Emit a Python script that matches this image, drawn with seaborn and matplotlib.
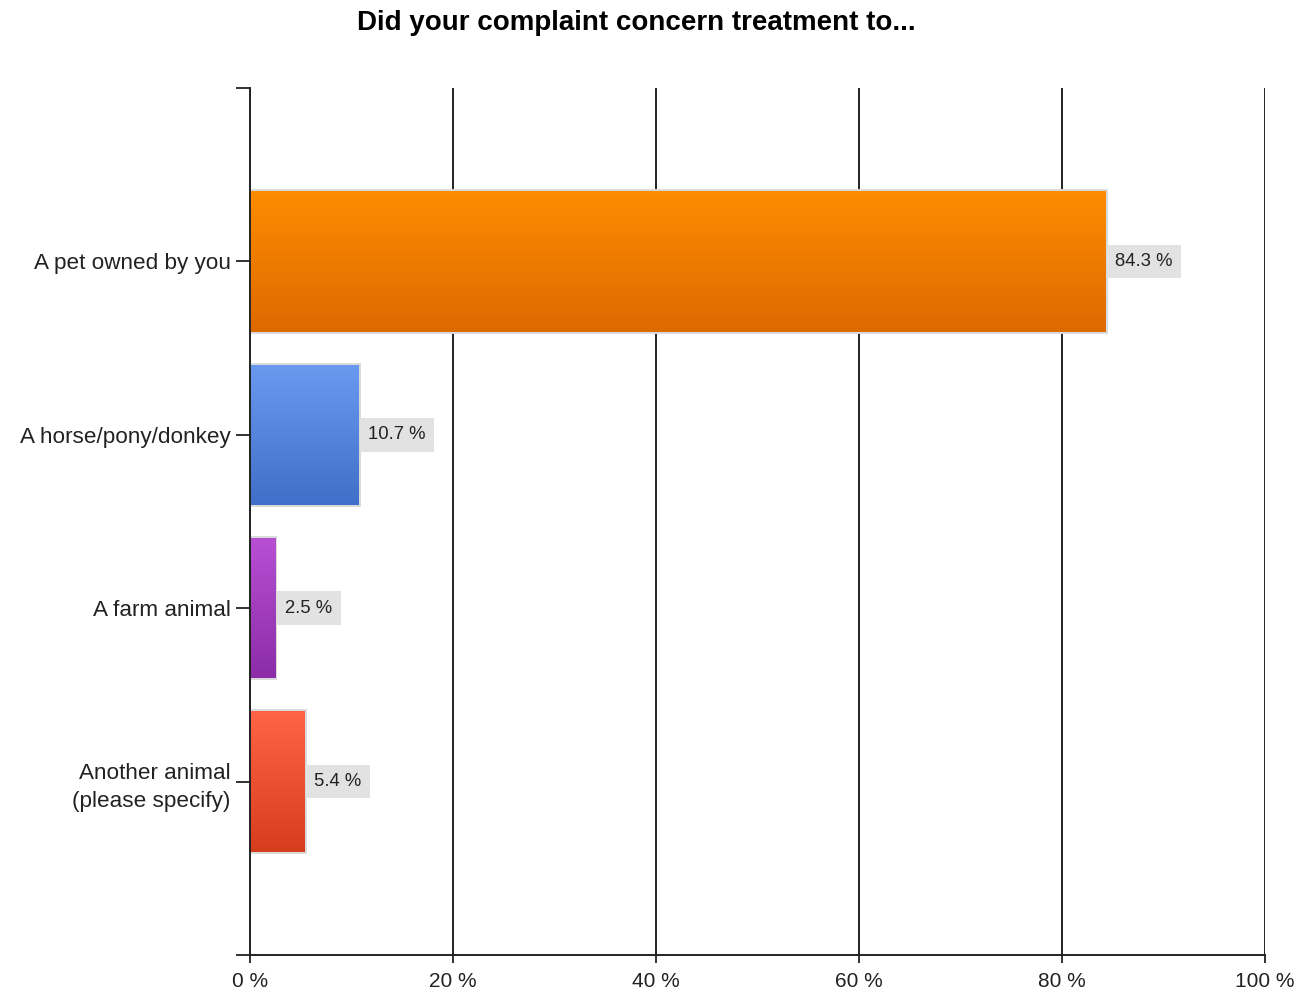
import numpy as np
import pandas as pd
import matplotlib.pyplot as plt
import matplotlib.colors as mcolors
import seaborn as sns

# data
categories = ["A pet owned by you", "A horse/pony/donkey", "A farm animal",
              "Another animal\n(please specify)"]
percent = [84.3, 10.7, 2.5, 5.4]
top_colors = ["#ff8c00", "#6a9af0", "#b850d4", "#ff6448"]
bottom_colors = ["#dc6a00", "#3f6fc8", "#8c2ca8", "#d63c1e"]
x_ticks = [0, 20, 40, 60, 80, 100]

df = pd.DataFrame({"category": categories, "percent": percent})

sns.set_style("white")
plt.rcParams["font.family"] = ["Liberation Sans", "DejaVu Sans"]

fig = plt.figure(figsize=(13.01, 9.92), dpi=100)
ax = fig.add_axes([0.1922, 0.0373, 0.9723 - 0.1922, 0.9113 - 0.0373])

sns.barplot(data=df, x="percent", y="category", orient="h", ax=ax,
            width=0.81, color="white", edgecolor="#d9d9d9", linewidth=2.8,
            zorder=3)

ax.set_xlim(0, 100)
ax.set_ylim(4, -1)

# gradient fill inside each bar
for patch, c_top, c_bot in zip(ax.patches, top_colors, bottom_colors):
    x0, y0 = patch.get_x(), patch.get_y()
    w, h = patch.get_width(), patch.get_height()
    cmap = mcolors.LinearSegmentedColormap.from_list("g", [c_top, c_bot])
    grad = np.linspace(0, 1, 256).reshape(-1, 1)
    im = ax.imshow(grad, cmap=cmap, aspect="auto", extent=[x0, x0 + w, y0 + h, y0],
                   zorder=3.5, interpolation="bilinear")
    im.set_clip_path(patch)

ax.set_xlim(0, 100)
ax.set_ylim(4, -1)

# value labels
for i, v in enumerate(percent):
    ax.text(v + 0.95, i, f"{v} %", va="center", ha="left", fontsize=13.3,
            color="#222222", zorder=5,
            bbox=dict(boxstyle="square,pad=0.45", facecolor="#e2e2e2",
                      edgecolor="none"))

ax.set_xticks(x_ticks)
ax.set_xticklabels([f"{t} %" for t in x_ticks], fontsize=15, color="#222222")
ax.set_yticks(range(len(categories)))
ax.set_yticklabels(categories, fontsize=16.2, color="#222222", linespacing=1.45)
ax.set_yticks([-1, 4], minor=True)
ax.tick_params(axis="x", bottom=True, length=6, width=1.3, color="#222222", pad=6)
ax.tick_params(axis="y", which="both", left=True, length=10, width=1.3,
               color="#222222", pad=4)
ax.set_xlabel("")
ax.set_ylabel("")

ax.grid(axis="x", color="#222222", linewidth=1.4, zorder=0)
ax.set_axisbelow(True)
for side in ["top", "right"]:
    ax.spines[side].set_visible(False)
for side in ["left", "bottom"]:
    ax.spines[side].set_color("#222222")
    ax.spines[side].set_linewidth(1.4)
    ax.spines[side].set_zorder(4)

fig.suptitle("Did your complaint concern treatment to...", x=0.489, y=0.99,
             fontsize=20, fontweight="bold", color="#000000")

plt.savefig("out.png", dpi=100)
